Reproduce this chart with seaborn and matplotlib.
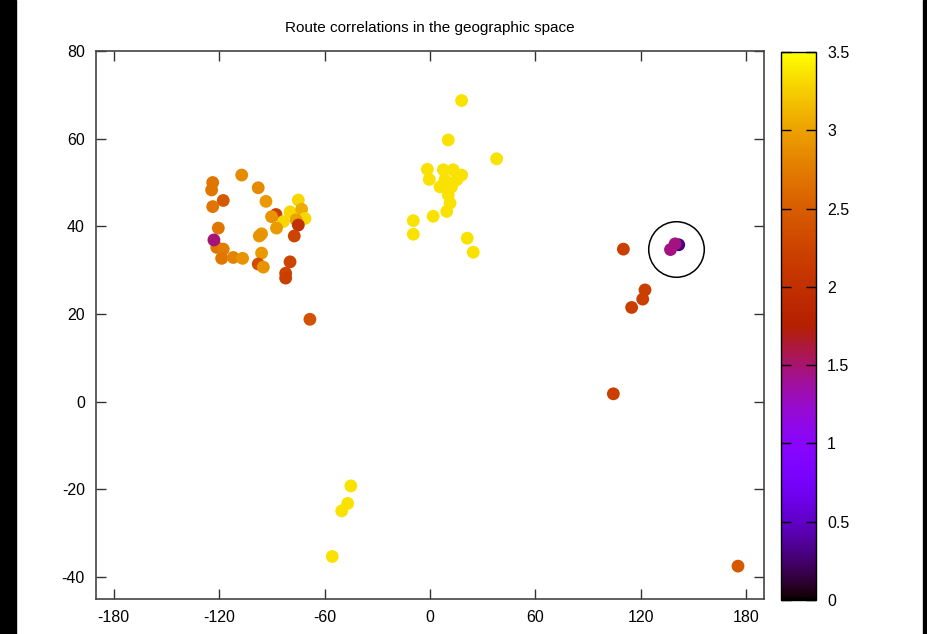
import numpy as np
import pandas as pd
import seaborn as sns
import matplotlib.pyplot as plt
from matplotlib.colors import Normalize
from matplotlib.cm import ScalarMappable
from matplotlib.patches import Rectangle

# longitude, latitude, correlation value
lon = [-107.1, -123.6, -124.2, -117.6, -123.6, -97.7, -93.3, -87.6, -90.1, -74.9,
       -79.6, -73.0, -71.1, -83.4, -76.2, -74.9, -87.3, -77.2, -95.8, -97.1,
       -120.4, -121.3, -117.6, -118.5, -111.9, -106.6, -95.8, -97.7, -94.8, -79.6,
       -82.1, -82.1, -68.3, -122.9,
       18.0, 10.4, 37.9, -1.5, -0.4, 7.6, 13.2, 18.0, 8.5, 12.3,
       10.4, 11.4, 9.5, 15.2, 5.7, 1.8, -9.5, -9.5, 21.2, 24.6,
       -45.0, -46.8, -50.2, -55.6,
       110.0, 122.3, 121.0, 114.7, 104.3, 175.2,
       141.5, 136.8, 139.4]
lat = [51.7, 50.0, 48.3, 45.9, 44.5, 48.8, 45.7, 42.7, 42.2, 46.0,
       43.3, 43.9, 41.8, 41.1, 41.5, 40.3, 39.6, 37.8, 38.3, 37.8,
       39.6, 35.2, 34.8, 32.7, 32.9, 32.7, 33.9, 31.4, 30.7, 31.9,
       29.3, 28.2, 18.8, 36.9,
       68.7, 59.7, 55.4, 53.0, 50.7, 52.9, 52.9, 51.7, 50.6, 49.0,
       47.2, 45.3, 43.4, 50.6, 49.0, 42.3, 41.3, 38.2, 37.3, 34.1,
       -19.2, -23.2, -24.9, -35.3,
       34.8, 25.5, 23.4, 21.5, 1.8, -37.5,
       35.8, 34.7, 36.0]
corr = [2.85, 2.7, 2.7, 2.45, 2.7, 2.85, 2.95, 2.2, 2.9, 3.3,
        3.3, 3.05, 3.3, 3.3, 3.0, 2.0, 2.95, 2.25, 2.95, 2.9,
        2.7, 2.7, 2.75, 2.7, 2.8, 2.9, 2.95, 2.35, 2.9, 2.25,
        2.25, 2.2, 2.4, 1.48,
        3.35, 3.35, 3.35, 3.35, 3.35, 3.35, 3.35, 3.35, 3.35, 3.35,
        3.35, 3.35, 3.35, 3.35, 3.35, 3.35, 3.35, 3.35, 3.35, 3.35,
        3.35, 3.35, 3.35, 3.35,
        2.2, 2.2, 2.2, 2.2, 2.2, 2.45,
        0.3, 1.45, 1.45]

# highlighted location
circle_lon = [140.0]
circle_lat = [34.8]

df = pd.DataFrame({'lon': lon, 'lat': lat, 'corr': corr})

plt.rcParams['font.family'] = ['Liberation Sans', 'DejaVu Sans']
plt.rcParams['axes.unicode_minus'] = False
fig = plt.figure(figsize=(9.28, 6.34), dpi=100)
fig.patch.set_facecolor('white')
ax = fig.add_axes([0.1034, 0.0552, 0.7199, 0.8644])
cax = fig.add_axes([0.8416, 0.0536, 0.0377, 0.8644])

norm = Normalize(0, 3.5)
sns.scatterplot(data=df, x='lon', y='lat', hue='corr', palette='gnuplot', hue_norm=norm,
                s=85, linewidth=0, legend=False, ax=ax)
ax.plot(circle_lon, circle_lat, marker='o', markersize=40, mfc='none', mec='black', mew=1.1, ls='none')

ax.set_xlim(-190, 190)
ax.set_ylim(-45, 80)
ax.set_xticks(np.arange(-180, 181, 60))
ax.set_yticks(np.arange(-40, 81, 20))
ax.set_xlabel('')
ax.set_ylabel('')
ax.tick_params(direction='in', length=7, width=1, top=True, right=True, labelsize=11.5, pad=8, colors='#333333')
ax.tick_params(labelcolor='black')
for s in ax.spines.values():
    s.set_color('#444444')
    s.set_linewidth(1.2)
ax.set_title('Route correlations in the geographic space', fontsize=11, pad=14)

sm = ScalarMappable(norm=norm, cmap='gnuplot')
cb = fig.colorbar(sm, cax=cax)
cb.set_ticks([0, 0.5, 1, 1.5, 2, 2.5, 3, 3.5])
cb.set_ticklabels(['0', '0.5', '1', '1.5', '2', '2.5', '3', '3.5'])
cax.tick_params(direction='in', length=7, width=1, left=True, right=True, labelsize=11.5, pad=8)
cb.outline.set_linewidth(1.0)

# black strips at the image edges
fig.add_artist(Rectangle((0, 0), 16 / 928, 1, transform=fig.transFigure, color='black'))
fig.add_artist(Rectangle((1 - 5 / 928, 0), 5 / 928, 1, transform=fig.transFigure, color='black'))

fig.savefig('out.png', dpi=100)
